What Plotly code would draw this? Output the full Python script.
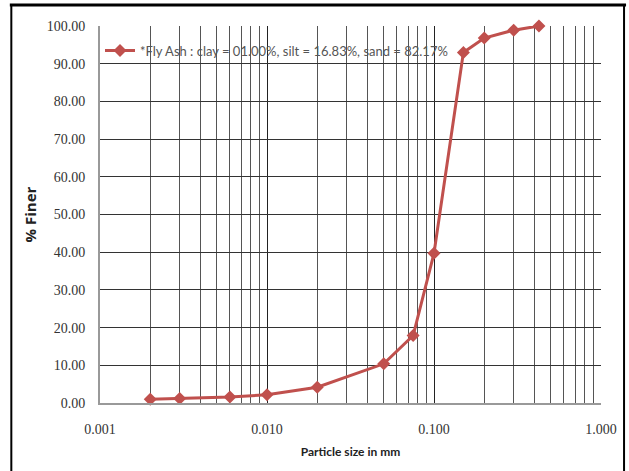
import plotly.graph_objects as go

particle_size_mm = [0.002, 0.003, 0.006, 0.010, 0.020, 0.050, 0.075, 0.100, 0.150, 0.200, 0.300, 0.425]
percent_finer = [1.0, 1.2, 1.6, 2.2, 4.2, 10.4, 17.9, 39.7, 93.0, 96.8, 98.9, 100.0]
series_name = "*Fly Ash : clay = 01.00%, silt = 16.83%, sand = 82.17%"

x_tickvals = [0.001, 0.01, 0.1, 1.0]
x_ticktext = ["0.001", "0.010", "0.100", "1.000"]
y_tickvals = [0, 10, 20, 30, 40, 50, 60, 70, 80, 90, 100]
y_ticktext = ["%.2f" % v for v in y_tickvals]

minor_vals = [k * 10.0 ** e for e in (-3, -2, -1) for k in range(2, 10)]

fig = go.Figure()
fig.add_trace(go.Scatter(
    x=particle_size_mm, y=percent_finer, mode="lines+markers", name=series_name,
    line=dict(color="#C0504D", width=3),
    marker=dict(symbol="diamond", size=10, color="#C0504D"),
    cliponaxis=False,
))

fig.update_layout(
    width=629, height=471,
    margin=dict(l=100, r=26, t=26, b=68),
    paper_bgcolor="white", plot_bgcolor="white",
    showlegend=True,
    legend=dict(x=0.0, y=0.935, xanchor="left", yanchor="middle",
                bgcolor="rgba(0,0,0,0)",
                font=dict(family="Lato", size=13, color="#555555")),
    xaxis=dict(type="log", range=[-3, 0], tickvals=x_tickvals, ticktext=x_ticktext,
               showgrid=True, gridcolor="#222222", gridwidth=1,
               minor=dict(tickvals=minor_vals, showgrid=True, gridcolor="#555555", gridwidth=1),
               showline=True, linecolor="#999999", linewidth=2,
               ticks="", ticklabelstandoff=12,
               tickfont=dict(family="Liberation Serif", size=14, color="#333333"),
               title=dict(text="Particle size in mm", standoff=12,
                          font=dict(family="Lato", size=12, color="#222222", weight="bold"))),
    yaxis=dict(range=[0, 100], tickvals=y_tickvals, ticktext=y_ticktext,
               showgrid=True, gridcolor="#333333", gridwidth=1,
               zeroline=False,
               showline=True, linecolor="#999999", linewidth=2,
               ticks="", ticklabelstandoff=10,
               tickfont=dict(family="Liberation Serif", size=14, color="#333333"),
               title=dict(text="% Finer", standoff=6,
                          font=dict(family="Open Sans", size=15, color="#222222", weight="bold"))),
    shapes=[
        dict(type="line", xref="paper", yref="paper", x0=-0.18, x1=1.05, y0=1.056, y1=1.056,
             line=dict(color="black", width=3)),
        dict(type="line", xref="paper", yref="paper", x0=-0.177, x1=-0.177, y0=1.056, y1=-0.2,
             line=dict(color="black", width=2)),
        dict(type="line", xref="paper", yref="paper", x0=1.046, x1=1.046, y0=1.056, y1=-0.2,
             line=dict(color="black", width=2)),
    ],
)

fig.write_html("out.html", config={"displayModeBar": False},
               post_script="document.body.style.margin='0';")
